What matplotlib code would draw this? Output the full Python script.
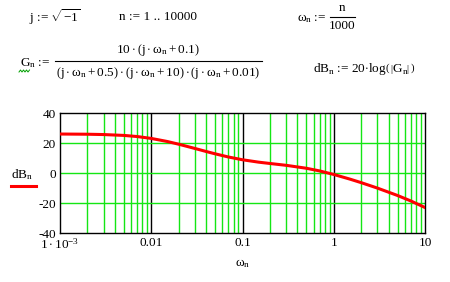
import numpy as np
import matplotlib
matplotlib.use("Agg")
import matplotlib.pyplot as plt

plt.rcParams["font.family"] = "Liberation Serif"
plt.rcParams["mathtext.fontset"] = "custom"
plt.rcParams["mathtext.rm"] = "Liberation Serif"
plt.rcParams["mathtext.it"] = "Liberation Serif"
plt.rcParams["mathtext.bf"] = "Liberation Serif:bold"

# values (omega, dB)
omega = [0.001, 0.002, 0.003, 0.005, 0.007, 0.01, 0.015, 0.02, 0.03, 0.04,
         0.05, 0.07, 0.1, 0.15, 0.2, 0.3, 0.5, 0.7, 1, 1.5, 2, 3, 5, 7, 10]
dB = [25.98, 25.85, 25.63, 25.06, 24.31, 23.05, 21.0, 19.19, 16.38, 14.33,
      12.80, 10.68, 8.82, 7.23, 6.34, 5.13, 3.17, 1.38, -0.97, -4.06, -6.44,
      -10.03, -14.99, -18.65, -23.02]

x_ticks = [0.001, 0.01, 0.1, 1, 10]
x_labels = [r"$1\cdot10^{-3}$", "0.01", "0.1", "1", "10"]
y_ticks = [-40, -20, 0, 20, 40]

fs = 9.5
W, H = 450, 282


def fx(px):
    return px / W


def fy(py):
    return 1 - py / H


fig = plt.figure(figsize=(4.5, 2.82), dpi=100)
ax = fig.add_axes([fx(60), fy(233), 365 / W, 120 / H])

# grid like Mathcad: green minor lines, black decade lines
green = "#14e614"
for dec in [0.001, 0.01, 0.1, 1]:
    for k in range(2, 10):
        ax.axvline(dec * k, color=green, lw=1.0, zorder=1)
for d in [0.01, 0.1, 1]:
    ax.axvline(d, color="black", lw=1.0, zorder=1)
for yv in [-20, 0, 20]:
    ax.axhline(yv, color=green, lw=1.0, zorder=1)

ax.plot(omega, dB, color="#ff0000", lw=2.2, zorder=3)

ax.set_xscale("log")
ax.set_xlim(0.001, 10)
ax.set_ylim(-40, 40)
ax.set_xticks(x_ticks)
ax.set_xticklabels(x_labels, fontsize=fs)
ax.minorticks_off()
ax.set_yticks(y_ticks)
ax.set_yticklabels([str(v) for v in y_ticks], fontsize=fs)
ax.tick_params(length=0, pad=3)
for s in ax.spines.values():
    s.set_linewidth(1.0)
    s.set_color("black")

# trace label at left
fig.text(fx(22), fy(175), r"$dB_n$", fontsize=fs, ha="center", va="center")
fig.add_artist(plt.Line2D([fx(11), fx(36)], [fy(186), fy(186)],
                          color="#ff0000", lw=2.2))
fig.text(fx(243), fy(264), r"$\omega_n$", fontsize=fs, ha="center", va="center")

# header definitions
fig.text(fx(29), fy(17), r"j := $\sqrt{-1}$", fontsize=fs, va="center")
fig.text(fx(119), fy(17), "n := 1 .. 10000", fontsize=fs, va="center")

fig.text(fx(297), fy(19), r"$\omega_n$ :=", fontsize=fs, va="center")
fig.text(fx(342), fy(8), "n", fontsize=fs, ha="center", va="center")
fig.add_artist(plt.Line2D([fx(330), fx(355)], [fy(17), fy(17)], color="black", lw=0.8))
fig.text(fx(342), fy(26), "1000", fontsize=fs, ha="center", va="center")

fig.text(fx(20), fy(63), r"$G_n$ :=", fontsize=fs, va="center")
fig.text(fx(158), fy(50), r"$10\cdot\left(j\cdot\omega_n + 0.1\right)$",
         fontsize=fs, ha="center", va="center")
fig.add_artist(plt.Line2D([fx(55), fx(262)], [fy(61), fy(61)], color="black", lw=0.8))
fig.text(fx(158), fy(73),
         r"$\left(j\cdot\omega_n + 0.5\right)\cdot\left(j\cdot\omega_n + 10\right)"
         r"\cdot\left(j\cdot\omega_n + 0.01\right)$",
         fontsize=fs, ha="center", va="center")
# green squiggle under G (Mathcad redefinition mark)
sq_x = [19, 20.5, 22, 23.5, 25, 26.5, 28, 29.5]
sq_y = [72, 70, 72, 70, 72, 70, 72, 70]
fig.add_artist(plt.Line2D([fx(v) for v in sq_x], [fy(v) for v in sq_y],
                          color="#00a000", lw=0.7))

fig.text(fx(313), fy(70), r"$dB_n$ := 20$\cdot$log$\left(\,\left|G_n\right|\,\right)$",
         fontsize=fs, va="center")

fig.savefig("out.png", dpi=100)
